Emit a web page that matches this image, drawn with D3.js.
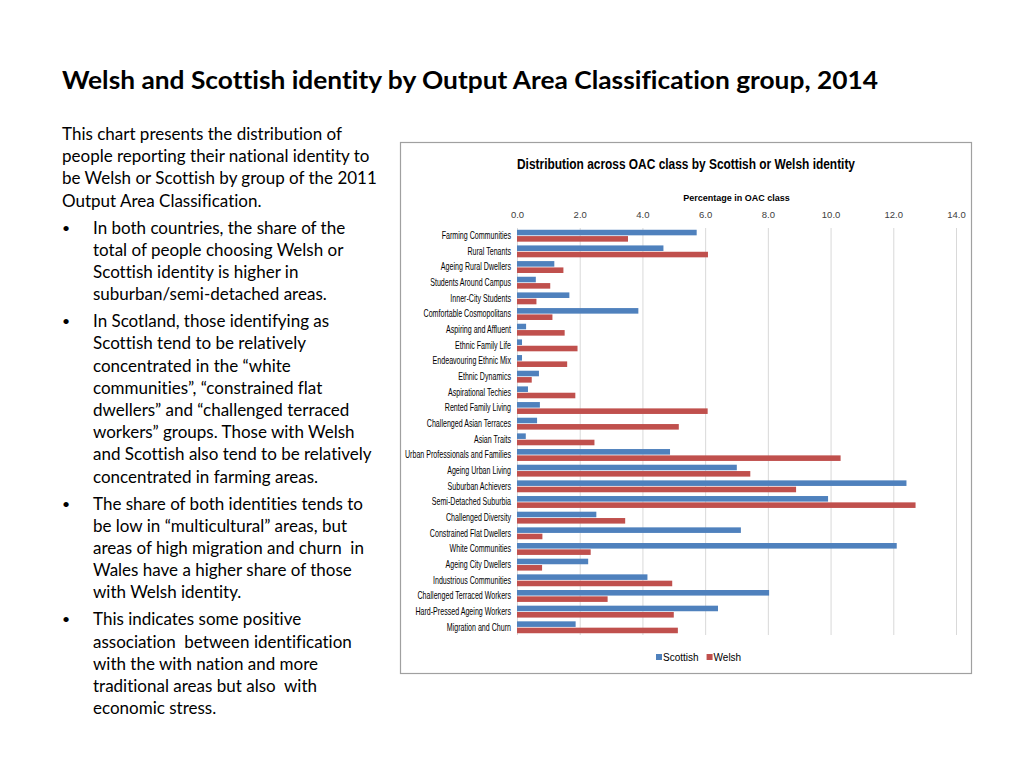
<!DOCTYPE html>
<html>
<head>
<meta charset="utf-8">
<script src="https://cdn.jsdelivr.net/npm/d3@7"></script>
<style>
  body { margin:0; background:#fff; }
  svg { display:block; }
  text { font-variant-ligatures: none; }
</style>
</head>
<body>
<svg id="slide" width="1024" height="768"></svg>
<script>
// chart data
var categories = [
  'Farming Communities','Rural Tenants','Ageing Rural Dwellers','Students Around Campus',
  'Inner-City Students','Comfortable Cosmopolitans','Aspiring and Affluent','Ethnic Family Life',
  'Endeavouring Ethnic Mix','Ethnic Dynamics','Aspirational Techies','Rented Family Living',
  'Challenged Asian Terraces','Asian Traits','Urban Professionals and Families','Ageing Urban Living',
  'Suburban Achievers','Semi-Detached Suburbia','Challenged Diversity','Constrained Flat Dwellers',
  'White Communities','Ageing City Dwellers','Industrious Communities','Challenged Terraced Workers',
  'Hard-Pressed Ageing Workers','Migration and Churn'
];
var scottish = [5.73,4.67,1.19,0.60,1.67,3.87,0.29,0.16,0.16,0.70,0.35,0.73,0.64,0.28,4.88,7.01,12.42,9.92,2.53,7.14,12.11,2.27,4.16,8.04,6.41,1.87];
var welsh    = [3.54,6.09,1.48,1.06,0.62,1.13,1.52,1.93,1.60,0.47,1.86,6.08,5.16,2.47,10.32,7.44,8.90,12.71,3.45,0.81,2.35,0.80,4.95,2.89,5.00,5.13];
var seriesNames = ['Scottish','Welsh'];
var xTicks = [0,2,4,6,8,10,12,14];

var slideTitle = 'Welsh and Scottish identity by Output Area Classification group, 2014';
var chartTitle = 'Distribution across OAC class by Scottish or Welsh identity';
var axisTitle = 'Percentage in OAC class';
var bodyLines = [
  ['', 'This chart presents the distribution of'],
  ['', 'people reporting their national identity to'],
  ['', 'be Welsh or Scottish by group of the 2011'],
  ['', 'Output Area Classification.'],
  ['•', 'In both countries, the share of the'],
  [' ', 'total of people choosing Welsh or'],
  [' ', 'Scottish identity is higher in'],
  [' ', 'suburban/semi-detached areas.'],
  ['•', 'In Scotland, those identifying as'],
  [' ', 'Scottish tend to be relatively'],
  [' ', 'concentrated in the \u201cwhite'],
  [' ', 'communities\u201d, \u201cconstrained flat'],
  [' ', 'dwellers\u201d and \u201cchallenged terraced'],
  [' ', 'workers\u201d groups. Those with Welsh'],
  [' ', 'and Scottish also tend to be relatively'],
  [' ', 'concentrated in farming areas.'],
  ['•', 'The share of both identities tends to'],
  [' ', 'be low in \u201cmulticultural\u201d areas, but'],
  [' ', 'areas of high migration and churn\u00a0 in'],
  [' ', 'Wales have a higher share of those'],
  [' ', 'with Welsh identity.'],
  ['•', 'This indicates some positive'],
  [' ', 'association\u00a0 between identification'],
  [' ', 'with the with nation and more'],
  [' ', 'traditional areas but also\u00a0 with'],
  [' ', 'economic stress.']
];

var colors = {Scottish:'#4f81bd', Welsh:'#c0504d'};
var svg = d3.select('#slide');

// slide title, squeezed to the width it has in the picture
svg.append('text')
  .attr('x', 62).attr('y', 89)
  .attr('font-family', 'Lato, sans-serif')
  .attr('font-weight', 'bold')
  .attr('font-size', 24)
  .attr('fill', '#000')
  .text(slideTitle)
  .attr('textLength', 816).attr('lengthAdjust', 'spacingAndGlyphs');

// body text
var body = svg.append('g').attr('font-family', 'Lato, sans-serif').attr('font-size', 17).attr('fill', '#000');
var lineY = 0, baseY = 140;
var probe = body.append('text').text(bodyLines[1][1]);
var sx = 314 / probe.node().getComputedTextLength();
probe.remove();
bodyLines.forEach(function(l, i){
  if (i > 0) lineY += (l[0] === '•') ? 27 : 22.2;
  if (l[0] === '•') {
    body.append('text').attr('x', 62).attr('y', baseY + lineY - 1).attr('font-size', 14).text('•');
  }
  var x = l[0] === '' ? 62 : 93;
  body.append('text')
    .attr('transform', 'translate(' + x + ',' + (baseY + lineY) + ') scale(' + Math.min(sx, 1) + ',1)')
    .text(l[1]);
});

// chart box
svg.append('rect')
  .attr('x', 400.5).attr('y', 142.5).attr('width', 571).attr('height', 531)
  .attr('fill', '#fff').attr('stroke', '#a0a0a0').attr('stroke-width', 1.2);

var chartFont = "'Liberation Sans Narrow', 'Liberation Sans', sans-serif";

svg.append('text')
  .attr('x', 686).attr('y', 169)
  .attr('text-anchor', 'middle')
  .attr('font-family', chartFont)
  .attr('font-weight', 'bold')
  .attr('font-size', 15)
  .attr('fill', '#000')
  .text(chartTitle)
  .attr('textLength', 338).attr('lengthAdjust', 'spacingAndGlyphs');

var x = d3.scaleLinear().domain([0, 14]).range([517, 956]);
var y = d3.scaleBand().domain(categories).range([226, 637]).padding(0.24);
var ySub = d3.scaleBand().domain(seriesNames).range([0, y.bandwidth()]).paddingInner(0.12);

svg.append('text')
  .attr('x', (x(0) + x(14)) / 2).attr('y', 201)
  .attr('text-anchor', 'middle')
  .attr('font-family', chartFont)
  .attr('font-weight', 'bold')
  .attr('font-size', 9)
  .attr('fill', '#000')
  .text(axisTitle);

// gridlines
svg.append('g').selectAll('line').data(xTicks).join('line')
  .attr('x1', function(d){ return x(d) + 0.5; })
  .attr('x2', function(d){ return x(d) + 0.5; })
  .attr('y1', 228).attr('y2', 635)
  .attr('stroke', '#d9d9d9').attr('stroke-width', 1);

// top value axis
var xAxis = svg.append('g')
  .attr('transform', 'translate(0,218)')
  .call(d3.axisTop(x).tickValues(xTicks).tickFormat(d3.format('.1f')).tickSize(0).tickPadding(0));
xAxis.select('.domain').remove();
xAxis.selectAll('text')
  .attr('font-family', chartFont).attr('font-size', 9.5).attr('fill', '#404040');

// category axis
var yAxis = svg.append('g')
  .attr('transform', 'translate(511,0)')
  .call(d3.axisLeft(y).tickSize(0).tickPadding(0));
yAxis.select('.domain').remove();
var labels = yAxis.selectAll('text')
  .attr('font-family', chartFont).attr('font-size', 10.5).attr('fill', '#000');
var longest = 0;
labels.each(function(){ longest = Math.max(longest, this.getComputedTextLength()); });
var lsx = Math.min(1, 106 / longest);
labels.each(function(){
  var w = this.getComputedTextLength();
  d3.select(this).attr('textLength', w * lsx).attr('lengthAdjust', 'spacingAndGlyphs');
});

// bars
var rows = categories.map(function(c, i){ return {cat:c, Scottish:scottish[i], Welsh:welsh[i]}; });
var groups = svg.append('g').selectAll('g').data(rows).join('g')
  .attr('transform', function(d){ return 'translate(0,' + y(d.cat) + ')'; });
groups.selectAll('rect').data(function(d){
    return seriesNames.map(function(s){ return {key:s, value:d[s]}; });
  }).join('rect')
  .attr('x', x(0))
  .attr('y', function(d){ return ySub(d.key); })
  .attr('height', ySub.bandwidth())
  .attr('width', function(d){ return x(d.value) - x(0); })
  .attr('fill', function(d){ return colors[d.key]; });

// legend
var legend = svg.append('g').attr('font-family', chartFont).attr('font-size', 10);
var lx = 656;
seriesNames.forEach(function(s){
  legend.append('rect').attr('x', lx).attr('y', 654).attr('width', 6).attr('height', 6).attr('fill', colors[s]);
  var t = legend.append('text').attr('x', lx + 7).attr('y', 661).attr('fill', '#000').text(s);
  lx += 8 + t.node().getComputedTextLength() + 7;
});
</script>
</body>
</html>
